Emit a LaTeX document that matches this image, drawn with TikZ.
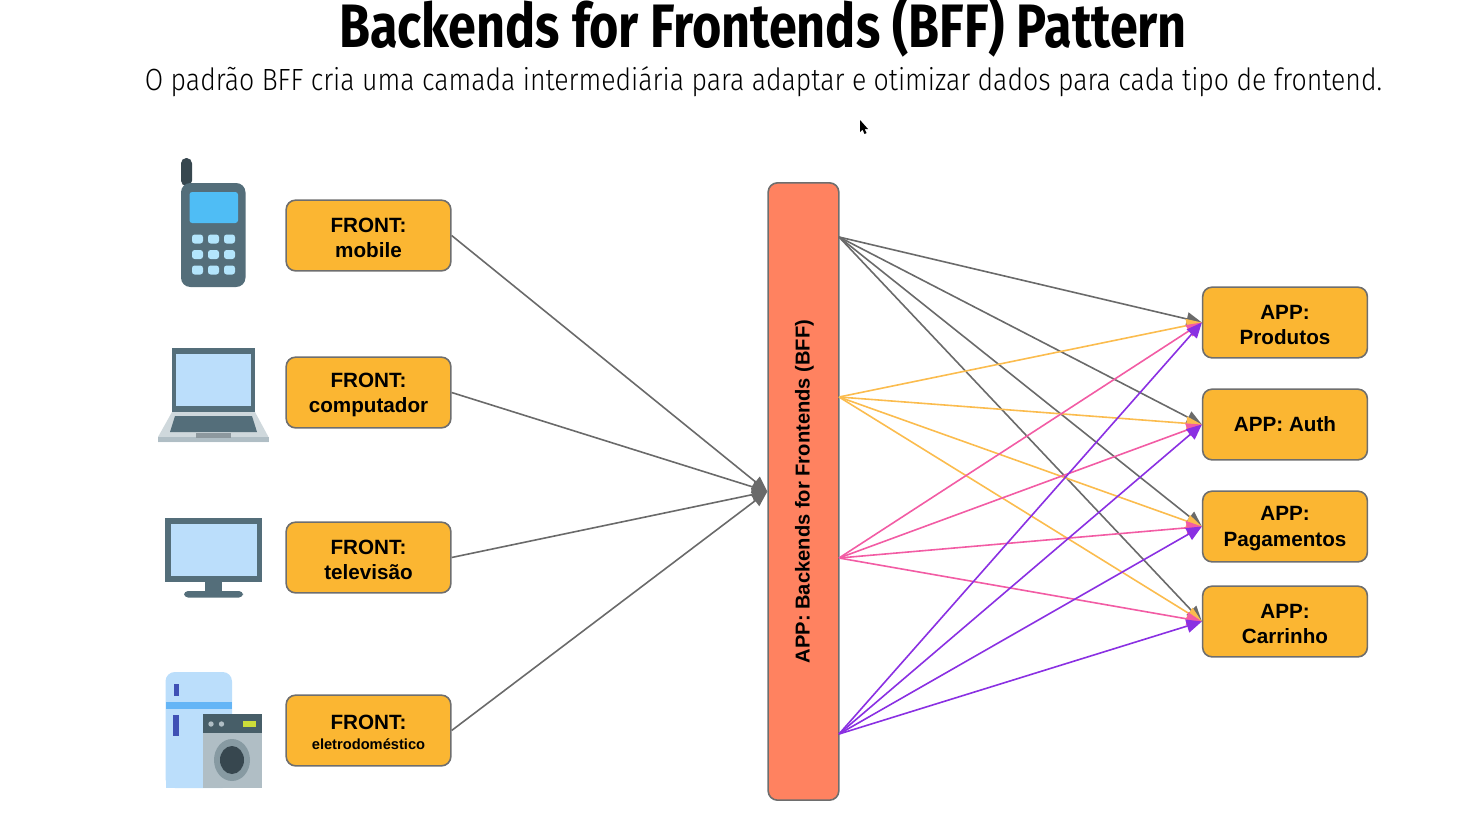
\documentclass[tikz,border=0pt]{standalone}
\usepackage{fontspec}
\usepackage{graphicx}
\usetikzlibrary{arrows.meta}
\setmainfont{Liberation Sans}
\newfontfamily\titlefont{Fira Sans}
\newfontfamily\subtitlefont{Fira Sans Light}
\definecolor{boxfill}{HTML}{FBB632}
\definecolor{boxline}{HTML}{6E6E6E}
\definecolor{bfffill}{HTML}{FF8260}
\definecolor{linegray}{HTML}{6A6A6A}
\definecolor{lineyellow}{HTML}{FBBC4E}
\definecolor{linepink}{HTML}{F25CA4}
\definecolor{linepurple}{HTML}{8A30E2}
\definecolor{icondark}{HTML}{37474F}
\definecolor{iconslate}{HTML}{546E7A}
\definecolor{iconlight}{HTML}{BBDEFB}
\definecolor{iconkeys}{HTML}{B3E5FC}
\definecolor{iconscreen}{HTML}{4FBDF5}
\definecolor{icongray}{HTML}{B0BEC5}
\definecolor{iconpale}{HTML}{CFD8DC}
\definecolor{iconband}{HTML}{64B5F6}
\definecolor{iconhandle}{HTML}{3F51B5}
\definecolor{icondisplay}{HTML}{CDDC39}
\newcommand{\boxstrut}{\rule{0pt}{14pt}}
\tikzset{
	appbox/.style={draw=boxline,line width=1.2pt,fill=boxfill,rounded corners=7pt,minimum width=123.5pt,minimum height=53pt,inner sep=0pt,align=center,font=\fontsize{15.5}{19}\selectfont\bfseries},
	link/.style={line width=1.2pt,-{Triangle[length=11.5pt,width=10pt]}},
}
\begin{document}
\begin{tikzpicture}[x=0.75pt,y=-0.75pt]
	\useasboundingbox (0,0) rectangle (1470,818);
	%Headings
	\node (title) at (763,26) {\titlefont\bfseries\fontsize{46}{50}\selectfont\scalebox{0.82}[1]{Backends for Frontends (BFF) Pattern}};
	\node (subtitle) at (763.5,82) {\subtitlefont\fontsize{23}{27}\selectfont\scalebox{0.869}[1]{O padrão BFF cria uma camada intermediária para adaptar e otimizar dados para cada tipo de frontend.}};
	%Mouse pointer
	\fill[black] (860,120) -- (860,132) -- (862.5,129.5) -- (864.5,134) -- (866.5,133) -- (864.5,129) -- (868,129) -- cycle;
	%Phone
	\fill[icondark,rounded corners=4pt] (181,186) -- (181,158) -- (192,158) -- (192,186) -- cycle;
	\fill[iconslate,rounded corners=7pt] (181,183) rectangle (245.5,287);
	\fill[iconscreen,rounded corners=2pt] (189.5,192) rectangle (238,223);
	\foreach \kx in {197.5,213.5,229.5} {
		\foreach \ky in {239,254.5,270} {
			\fill[iconkeys,rounded corners=2pt] (\kx-5.5,\ky-4.5) rectangle (\kx+5.5,\ky+4.5);
		}
	}
	%Laptop
	\fill[iconslate] (172,348) rectangle (255,412);
	\fill[iconlight] (176,353.5) rectangle (251,406);
	\fill[iconpale] (172,412) -- (255,412) -- (268.5,437) -- (268.5,442) -- (158,442) -- (158,437) -- cycle;
	\fill[icongray] (158,437) rectangle (268.5,442);
	\fill[iconslate] (175,416) -- (252,416) -- (257,432) -- (170,432) -- cycle;
	\fill[icongray!80!black] (196,433) rectangle (231,438);
	%Television
	\fill[iconslate] (165,518) rectangle (262,582);
	\fill[iconlight] (170.5,524) rectangle (257,576);
	\fill[iconslate] (205,582) rectangle (222,592);
	\fill[iconslate,rounded corners=3pt] (184,597.5) -- (184,591) -- (243,591) -- (243,597.5) -- cycle;
	%Fridge and washing machine
	\fill[iconlight,rounded corners=7pt] (165.5,788) -- (165.5,672) -- (232,672) -- (232,788) -- cycle;
	\fill[iconlight] (165.5,780) rectangle (203,788);
	\fill[iconband] (165.5,702) rectangle (232,709);
	\fill[iconhandle] (173.5,684) rectangle (178.5,696);
	\fill[iconhandle] (173,715) rectangle (179,736);
	\fill[icongray] (203,714) rectangle (262,788);
	\fill[iconslate!85!black] (203,714) rectangle (262,733);
	\fill[icongray] (211,724) circle (2.7);
	\fill[icongray] (221.5,724) circle (2.7);
	\fill[icondisplay] (243,721) rectangle (256,727);
	\fill[iconslate!70!white] (232,760) circle [x radius=18,y radius=21];
	\fill[icondark] (232,760) circle [x radius=12,y radius=14];
	%Frontends
	\node[appbox] (mobile) at (368.5,235.5) {\boxstrut FRONT:\\mobile};
	\node[appbox] (computador) at (368.5,392.5) {\boxstrut FRONT:\\computador};
	\node[appbox] (televisao) at (368.5,557.5) {\boxstrut FRONT:\\televisão};
	\node[appbox] (eletro) at (368.5,730.5) {\boxstrut FRONT:\\[-3.75pt]{\fontsize{11}{14}\selectfont eletrodoméstico}};
	%The BFF bar
	\node[appbox,fill=bfffill,minimum width=53pt,minimum height=463pt] (bff) at (803.5,491.5) {};
	\node[rotate=90,font=\fontsize{15.1}{19}\selectfont\bfseries] (bfflabel) at (804.5,491.5) {APP: Backends for Frontends (BFF)};
	\coordinate (bffin) at (bff.west);
	\coordinate (outgray) at (839,237);
	\coordinate (outyellow) at (839,397);
	\coordinate (outpink) at (839,558);
	\coordinate (outpurple) at (839,734);
	%Applications
	\node[appbox] (produtos) at (1285,322.5) {\boxstrut APP:\\Produtos};
	\node[appbox] (auth) at (1285,424.5) {APP: Auth};
	\node[appbox] (pagamentos) at (1285,526.5) {\boxstrut APP:\\Pagamentos};
	\node[appbox] (carrinho) at (1285,621.5) {\boxstrut APP:\\Carrinho};
	%Frontends into the BFF
	\foreach \front in {mobile,computador,televisao,eletro} {
		\draw[link,linegray] (\front.east) -- (bffin);
	}
	%BFF out to the applications
	\foreach \src/\col in {outgray/linegray,outyellow/lineyellow,outpink/linepink,outpurple/linepurple} {
		\foreach \app in {produtos,auth,pagamentos,carrinho} {
			\draw[link,\col] (\src) -- (\app.west);
		}
	}
\end{tikzpicture}
\end{document}
